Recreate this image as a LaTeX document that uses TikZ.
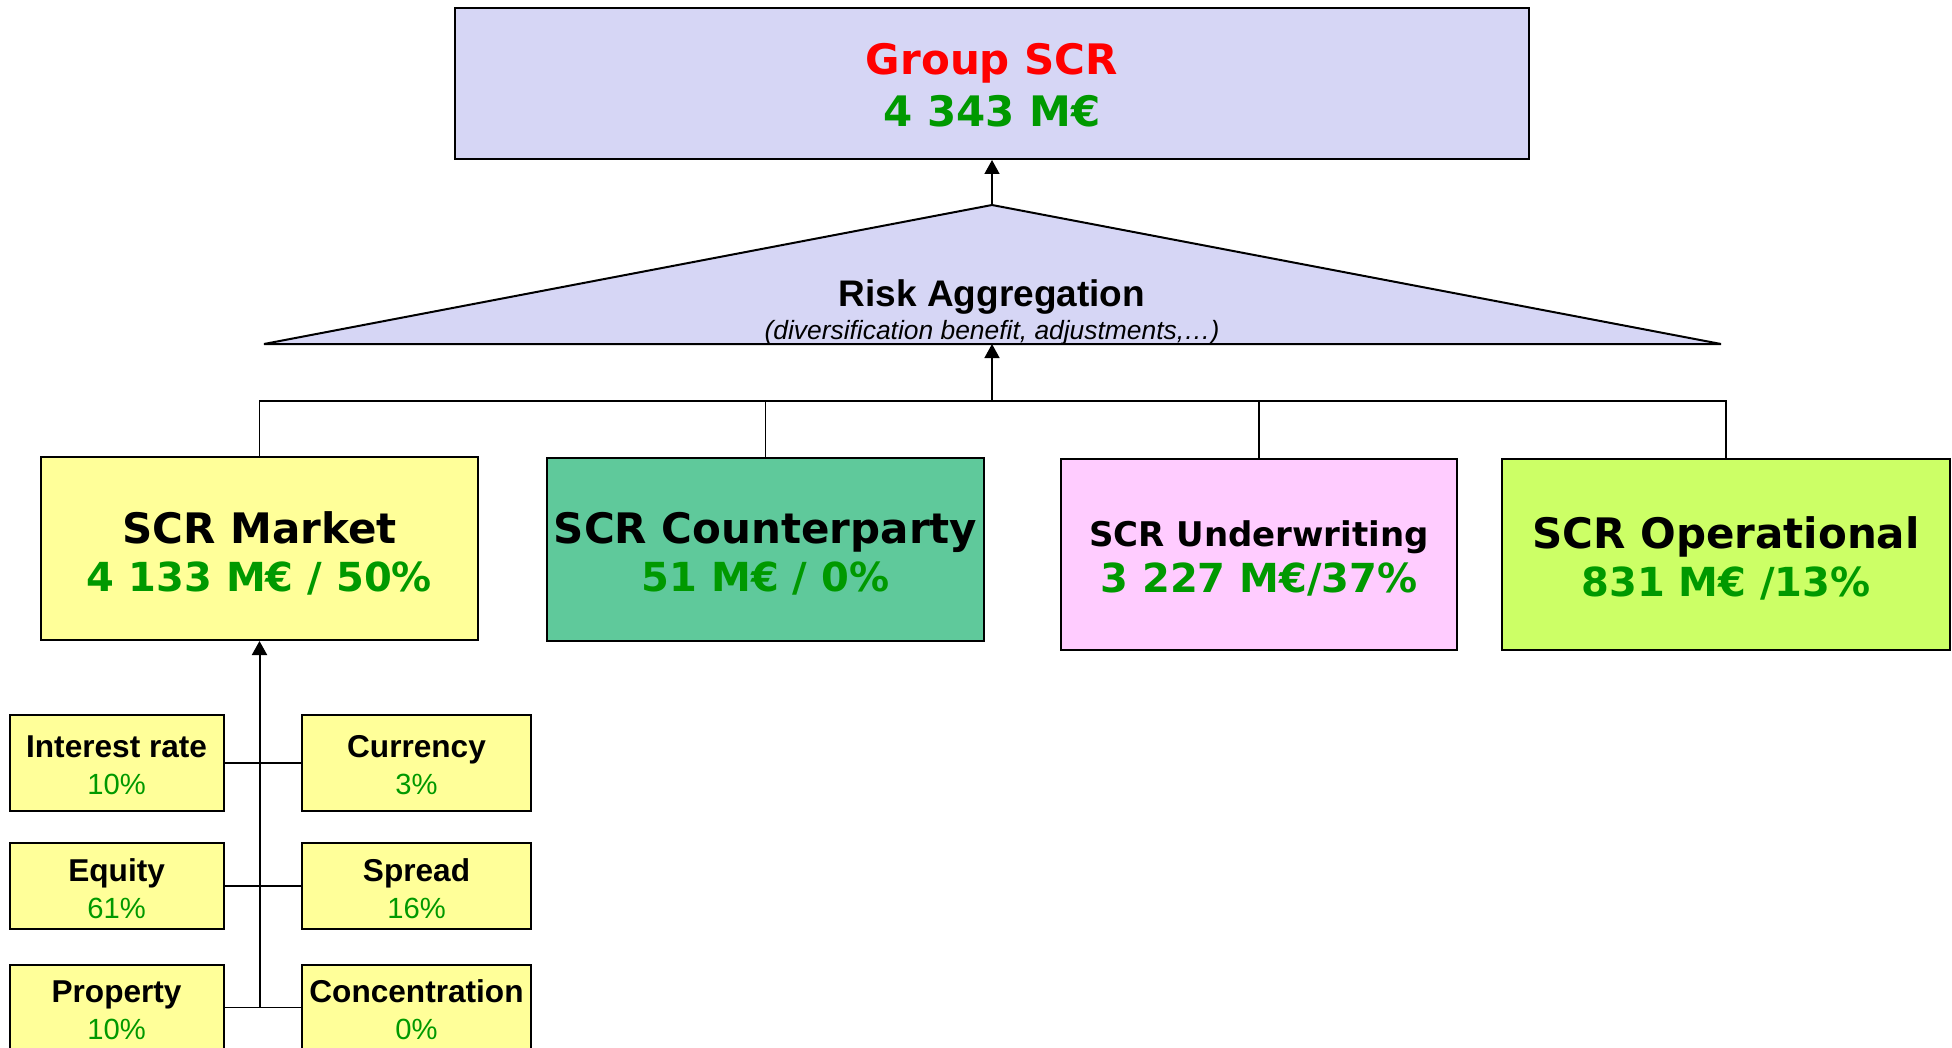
\documentclass[tikz,border=0pt]{standalone}
\usepackage{fontspec}
\setmainfont{Liberation Sans}
\newfontfamily\vfont{DejaVu Sans}
\usetikzlibrary{arrows.meta}
\definecolor{lav}{RGB}{214,214,245}
\definecolor{yel}{RGB}{255,255,153}
\definecolor{tealbox}{RGB}{95,201,155}
\definecolor{pinkbox}{RGB}{255,204,255}
\definecolor{limebox}{RGB}{204,255,102}
\definecolor{grn}{RGB}{0,153,0}
\definecolor{redtxt}{RGB}{255,0,0}
\begin{document}
\begin{tikzpicture}[x=0.5pt,y=-0.5pt,
  box/.style={draw=black, line width=1pt, rectangle, inner sep=0pt},
  txt/.style={inner sep=0pt, align=center},
  bigtxt/.style={txt, font=\vfont\bfseries\fontsize{20}{24}\selectfont},
  sub/.style={draw=black, line width=1pt, fill=yel, rectangle, inner sep=0pt},
  subtxt/.style={txt, font=\fontsize{15.8}{18.5}\selectfont},
  leftsub/.style={sub, minimum width=107pt},
  rightsub/.style={sub, minimum width=114.5pt},
  conn/.style={line width=0.75pt},
  tip/.style={-{Triangle[length=7pt,width=7.5pt]}},
  arr/.style={line width=0.75pt, tip}
]
\useasboundingbox (0,0) rectangle (1952,1048);

% Group SCR
\node[box, fill=lav, minimum width=537pt, minimum height=75.5pt] (grp) at (992,83.5) {};
\node[txt, font=\vfont\bfseries\fontsize{21}{26}\selectfont] (grpt) at ([yshift=-0.8pt]grp.center)
  {\textcolor{redtxt}{Group SCR}\\\textcolor{grn}{4 343 M€}};

% Risk aggregation triangle
\coordinate (apex) at (992,205);
\coordinate (tl) at (264,344);
\coordinate (tr) at (1721,344);
\coordinate (tribase) at (992,344);
\draw[line width=1pt, fill=lav, line join=miter] (tl) -- (apex) -- (tr) -- cycle;
\node[inner sep=0pt, font=\bfseries\fontsize{18.5}{20}\selectfont] (ra) at (992,297) {Risk Aggregation};
\node[inner sep=0pt, font=\itshape\fontsize{13.2}{15}\selectfont] (rasub) at (992,332.5) {(diversification benefit, adjustments,…)};

% Main modules
\node[box, fill=yel, minimum width=218.5pt, minimum height=91.5pt] (mkt) at (259.5,548.5) {};
\node[bigtxt] (mktt) at ([yshift=-2.4pt]mkt.center)
  {{\fontsize{21}{24}\selectfont SCR Market}\\\textcolor{grn}{4 133 M€ / 50\%}};
\node[box, fill=tealbox, minimum width=218.5pt, minimum height=91.5pt] (cpty) at (765.5,549.5) {};
\node[bigtxt] (cptyt) at ([yshift=-2.2pt]cpty.center)
  {{\fontsize{21}{24}\selectfont SCR Counterparty}\\\textcolor{grn}{51 M€ / 0\%}};
\node[box, fill=pinkbox, minimum width=198pt, minimum height=95.5pt] (uw) at (1259,554.5) {};
\node[txt, font=\vfont\bfseries\fontsize{20}{23}\selectfont] (uwt) at ([yshift=-2.2pt]uw.center)
  {{\fontsize{17}{23}\selectfont SCR Underwriting}\\\textcolor{grn}{3 227 M€/37\%}};
\node[box, fill=limebox, minimum width=224pt, minimum height=95.5pt] (oper) at (1726,554.5) {};
\node[bigtxt] (opert) at ([yshift=-2pt]oper.center)
  {{\fontsize{21}{24}\selectfont SCR Operational}\\\textcolor{grn}{831 M€ /13\%}};

% Sub-modules
\node[leftsub, minimum height=48pt] (ir) at (116.6,763) {};
\node[subtxt] (irt) at ([yshift=-1.2pt]ir.center) {\textbf{Interest rate}\\{\fontsize{14.6}{18.5}\selectfont\textcolor{grn}{10\%}}};
\node[rightsub, minimum height=48pt] (cur) at (416.5,763) {};
\node[subtxt] (curt) at ([yshift=-1.2pt]cur.center) {\textbf{Currency}\\{\fontsize{14.6}{18.5}\selectfont\textcolor{grn}{3\%}}};
\node[leftsub, minimum height=43pt] (eq) at (116.6,886) {};
\node[subtxt] (eqt) at ([yshift=-1.2pt]eq.center) {\textbf{Equity}\\{\fontsize{14.6}{18.5}\selectfont\textcolor{grn}{61\%}}};
\node[rightsub, minimum height=43pt] (spr) at (416.5,886) {};
\node[subtxt] (sprt) at ([yshift=-1.2pt]spr.center) {\textbf{Spread}\\{\fontsize{14.6}{18.5}\selectfont\textcolor{grn}{16\%}}};
\node[leftsub, minimum height=42.5pt] (prop) at (116.6,1007.5) {};
\node[subtxt] (propt) at ([yshift=-1.2pt]prop.center) {\textbf{Property}\\{\fontsize{14.6}{18.5}\selectfont\textcolor{grn}{10\%}}};
\node[rightsub, minimum height=42.5pt] (conc) at (416.5,1007.5) {};
\node[subtxt] (conct) at ([yshift=-1.2pt]conc.center) {\textbf{Concentration}\\{\fontsize{14.6}{18.5}\selectfont\textcolor{grn}{0\%}}};

% Connectors
\draw[arr] (apex) -- (grp.south);
\coordinate (bus) at (992,401);
\draw[conn] (mkt.north) -- (mkt.north |- bus) -- (oper.north |- bus) -- (oper.north);
\draw[conn] (cpty.north) -- (cpty.north |- bus);
\draw[conn] (uw.north) -- (uw.north |- bus);
\draw[arr] (bus) -- (tribase);

\draw[conn] (ir.east) -- (cur.west);
\draw[conn] (eq.east) -- (spr.west);
\draw[conn] (prop.east) -- (conc.west);
\coordinate (vb) at (mkt.south |- prop.east);
\draw[line width=1pt, tip] (vb) -- (mkt.south);
\end{tikzpicture}
\end{document}
